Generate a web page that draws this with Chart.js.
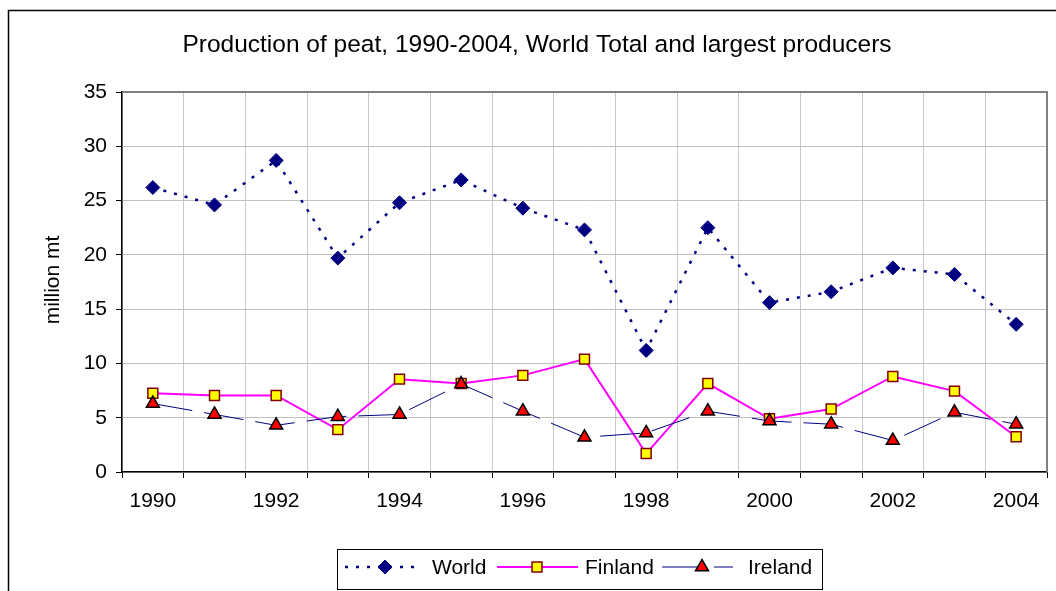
<!DOCTYPE html>
<html>
<head>
<meta charset="utf-8">
<script src="https://cdn.jsdelivr.net/npm/chart.js@4.4.1/dist/chart.umd.min.js"></script>
<style>
  html, body { margin: 0; padding: 0; background: #fff; overflow: hidden; }
</style>
</head>
<body>
<canvas id="peat-chart" width="1056" height="591"></canvas>
<script>
// values, million mt
const years = ['1990', '1991', '1992', '1993', '1994', '1995', '1996', '1997',
    '1998', '1999', '2000', '2001', '2002', '2003', '2004'];
const world = [26.2, 24.6, 28.7, 19.7, 24.8, 26.9, 24.3, 22.3, 11.2, 22.5, 15.6, 16.6, 18.8, 18.2, 13.6];
const finland = [7.25, 7.05, 7.05, 3.9, 8.55, 8.15, 8.9, 10.4, 1.7, 8.15, 4.9, 5.8, 8.8, 7.45, 3.25];
const ireland = [6.3, 5.3, 4.3, 5.1, 5.3, 8.1, 5.6, 3.2, 3.6, 5.6, 4.7, 4.4, 2.9, 5.5, 4.4];
const yTicks = [0, 5, 10, 15, 20, 25, 30, 35];

const FONT = "'Liberation Sans', Arial, sans-serif";
Chart.defaults.font.family = FONT;
Chart.defaults.color = '#000';

const datasets = [
    {
        label: 'World',
        data: world,
        borderColor: '#000080',
        borderWidth: 2.5,
        borderDash: [3, 8],
        pointStyle: 'rectRot',
        pointRadius: 7,
        pointBackgroundColor: '#000080',
        pointBorderColor: '#000080',
        pointBorderWidth: 1,
        order: 3,
        legendX: 345, legendMarkX: 385, legendEnd: 422, textX: 432
    },
    {
        label: 'Finland',
        data: finland,
        borderColor: '#FF00FF',
        borderWidth: 2,
        pointStyle: 'rect',
        pointRadius: 7,
        pointBackgroundColor: '#FFFF00',
        pointBorderColor: '#800000',
        pointBorderWidth: 1.5,
        order: 2,
        legendX: 497, legendMarkX: 537, legendEnd: 578, textX: 585
    },
    {
        label: 'Ireland',
        data: ireland,
        borderColor: '#000080',
        borderWidth: 1,
        borderDash: [40, 12],
        pointStyle: 'triangle',
        pointRadius: 7.5,
        pointBackgroundColor: '#FF0000',
        pointBorderColor: '#000000',
        pointBorderWidth: 1.5,
        order: 1,
        legendX: 662, legendMarkX: 702, legendEnd: 733, textX: 748
    }
];

function drawMarker(ctx, ds, x, y) {
    ctx.save();
    ctx.setLineDash([]);
    ctx.fillStyle = ds.pointBackgroundColor;
    ctx.strokeStyle = ds.pointBorderColor;
    ctx.lineWidth = ds.pointBorderWidth;
    Chart.helpers.drawPoint(ctx, {
        pointStyle: ds.pointStyle,
        radius: ds.pointRadius,
        rotation: 0,
        borderWidth: ds.pointBorderWidth
    }, x, y);
    ctx.restore();
}

const decorations = {
    id: 'decorations',
    beforeDatasetsDraw(chart) {
        const ctx = chart.ctx;
        const a = chart.chartArea;
        ctx.save();
        ctx.strokeStyle = '#808080';
        ctx.lineWidth = 2;
        ctx.beginPath();
        ctx.moveTo(a.left, a.top);
        ctx.lineTo(a.right, a.top);
        ctx.lineTo(a.right, a.bottom);
        ctx.stroke();
        ctx.restore();
    },
    afterDraw(chart) {
        const ctx = chart.ctx;
        ctx.save();
        // outer frame, cut off at right and bottom like the reference
        ctx.strokeStyle = '#000';
        ctx.lineWidth = 1.5;
        ctx.strokeRect(8.5, 10.5, 1200, 800);

        // title
        ctx.fillStyle = '#000';
        ctx.font = '24.5px ' + FONT;
        ctx.textAlign = 'center';
        ctx.textBaseline = 'alphabetic';
        ctx.fillText('Production of peat, 1990-2004, World Total and largest producers', 537, 52);

        // y axis title
        ctx.save();
        ctx.translate(59, 280);
        ctx.rotate(-Math.PI / 2);
        ctx.font = '21px ' + FONT;
        ctx.fillText('million mt', 0, 0);
        ctx.restore();

        // legend
        ctx.lineWidth = 1;
        ctx.strokeStyle = '#000';
        ctx.strokeRect(337.5, 549.5, 485, 40);
        const ly = 567;
        chart.data.datasets.forEach(ds => {
            ctx.save();
            ctx.strokeStyle = ds.borderColor;
            ctx.lineWidth = ds.borderWidth;
            ctx.setLineDash(ds.borderDash || []);
            ctx.beginPath();
            ctx.moveTo(ds.legendX, ly);
            ctx.lineTo(ds.legendEnd, ly);
            ctx.stroke();
            ctx.restore();
            drawMarker(ctx, ds, ds.legendMarkX, ly);
            ctx.font = '21px ' + FONT;
            ctx.textAlign = 'left';
            ctx.textBaseline = 'alphabetic';
            ctx.fillStyle = '#000';
            ctx.fillText(ds.label, ds.textX, 574);
        });
        ctx.restore();
    }
};

new Chart(document.getElementById('peat-chart'), {
    type: 'line',
    data: {
        labels: years,
        datasets: datasets
    },
    options: {
        responsive: false,
        animation: false,
        layout: {
            padding: { left: 0, top: 92, right: 9, bottom: 0 }
        },
        plugins: {
            legend: { display: false },
            title: { display: false },
            tooltip: { enabled: false }
        },
        scales: {
            x: {
                type: 'category',
                offset: true,
                grid: {
                    offset: true,
                    color: '#c8c8c8',
                    tickColor: '#000',
                    tickLength: 6
                },
                border: { color: '#000', width: 1.5 },
                ticks: {
                    autoSkip: false,
                    maxRotation: 0,
                    padding: 11,
                    font: { size: 21 },
                    callback: function (value, index) {
                        return index % 2 === 0 ? this.getLabelForValue(value) : '';
                    }
                },
                afterFit(scale) { scale.height = 119; }
            },
            y: {
                min: 0,
                max: 35,
                afterBuildTicks(scale) {
                    scale.ticks = yTicks.map(v => ({ value: v }));
                },
                grid: {
                    color: '#c0c0c0',
                    tickColor: '#000',
                    tickLength: 6
                },
                border: { color: '#000', width: 1.5 },
                ticks: {
                    padding: 9,
                    font: { size: 21 }
                },
                afterFit(scale) { scale.width = 122; }
            }
        }
    },
    plugins: [decorations]
});
</script>
</body>
</html>
